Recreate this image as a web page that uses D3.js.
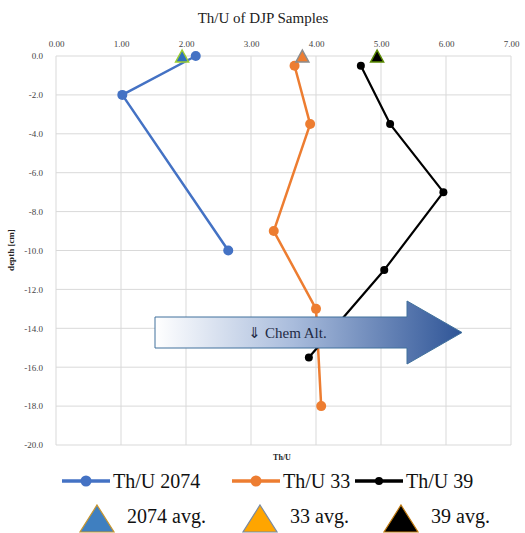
<!DOCTYPE html>
<html><head><meta charset="utf-8">
<script src="https://cdn.jsdelivr.net/npm/d3@7"></script>
<style>body{margin:0;background:#fff}svg{display:block}</style>
</head><body>
<svg id="c" width="525" height="533"></svg>
<script>
const title = "Th/U of DJP Samples";
const xTicks = [0,1,2,3,4,5,6,7];
const yTicks = [0,-2,-4,-6,-8,-10,-12,-14,-16,-18,-20];
const s2074 = [[2.15,0],[1.02,-2],[2.65,-10]];
const s33 = [[3.67,-0.5],[3.91,-3.5],[3.35,-9],[4.0,-13],[4.08,-18]];
const s39 = [[4.69,-0.5],[5.14,-3.5],[5.96,-7],[5.05,-11],[3.89,-15.5]];
const avgNames = ["2074 avg.","33 avg.","39 avg."];
const avgValues = [[1.94,0],[3.79,0],[4.94,0]];
const seriesNames = ["Th/U 2074","Th/U 33","Th/U 39"];

const svg = d3.select("#c");
const x = d3.scaleLinear().domain([0,7]).range([56,511]);
const y = d3.scaleLinear().domain([0,-20]).range([56,445]);
const serif = "Liberation Serif, Tinos, Times New Roman, DejaVu Serif, serif";

svg.append("text").attr("x",263).attr("y",23).attr("text-anchor","middle")
  .style("font-family",serif).attr("font-size",15).attr("fill","#222").text(title);

const g = svg.append("g");
g.selectAll("line.v").data(xTicks).join("line").attr("class","v")
  .attr("x1",d=>x(d)).attr("x2",d=>x(d)).attr("y1",y(0)).attr("y2",y(-20))
  .attr("stroke","#d9d9d9").attr("stroke-width",1);
g.selectAll("line.h").data(yTicks).join("line").attr("class","h")
  .attr("x1",x(0)).attr("x2",x(7)).attr("y1",d=>y(d)).attr("y2",d=>y(d))
  .attr("stroke","#d9d9d9").attr("stroke-width",1);

const xa = svg.append("g").attr("transform",`translate(0,${y(0)})`)
  .call(d3.axisTop(x).tickValues(xTicks).tickFormat(d=>d.toFixed(2)).tickSize(0).tickPadding(9));
xa.select(".domain").remove();
xa.selectAll("text").style("font-family",serif).attr("font-size",9).attr("fill","#444");
const ya = svg.append("g").attr("transform",`translate(${x(0)},0)`)
  .call(d3.axisLeft(y).tickValues(yTicks).tickFormat(d=>d.toFixed(1)).tickSize(0).tickPadding(13));
ya.select(".domain").remove();
ya.selectAll("text").style("font-family",serif).attr("font-size",9).attr("fill","#444");

svg.append("text").attr("transform","translate(14,250) rotate(-90)").attr("text-anchor","middle")
  .style("font-family",serif).attr("font-size",9).attr("font-weight","bold").attr("fill","#222").text("depth [cm]");
svg.append("text").attr("x",282).attr("y",460).attr("text-anchor","middle")
  .style("font-family",serif).attr("font-size",8).attr("font-weight","bold").attr("fill","#222").text("Th/U");

const line = d3.line().x(d=>x(d[0])).y(d=>y(d[1]));
const series = [
  {data:s2074,color:"#4472c4",w:2.5,r:5},
  {data:s33,color:"#ed7d31",w:2.5,r:5},
  {data:s39,color:"#000",w:2.2,r:4}
];
series.forEach(s=>{
  svg.append("path").datum(s.data).attr("d",line).attr("fill","none")
    .attr("stroke",s.color).attr("stroke-width",s.w).attr("stroke-linejoin","round");
  svg.selectAll(null).data(s.data).join("circle").attr("cx",d=>x(d[0])).attr("cy",d=>y(d[1]))
    .attr("r",s.r).attr("fill",s.color);
});

const tri = (cx,cy,w,h)=>`M${cx},${cy-h/2}L${cx+w/2},${cy+h/2}L${cx-w/2},${cy+h/2}Z`;
const avgStyles = [
  {fill:"#2e6fbd",stroke:"#9acd32"},
  {fill:"#ed7d31",stroke:"#8c8c8c"},
  {fill:"#000",stroke:"#5a8a00"}
];
avgValues.forEach((d,i)=>{
  svg.append("path").attr("d",tri(x(d[0]),y(d[1]),13,12))
    .attr("fill",avgStyles[i].fill).attr("stroke",avgStyles[i].stroke).attr("stroke-width",1.5);
});

const defs = svg.append("defs");
const gr = defs.append("linearGradient").attr("id","ag").attr("x1","0").attr("x2","1").attr("y1","0").attr("y2","0");
gr.append("stop").attr("offset","0").attr("stop-color","#ffffff");
gr.append("stop").attr("offset","0.45").attr("stop-color","#a9bcdc");
gr.append("stop").attr("offset","1").attr("stop-color","#2f5597");
const ax0=155, ax1=407, ax2=462, ayT=317, ayB=348, ahT=301, ahB=364, ayM=332.5;
svg.append("path").attr("d",`M${ax0},${ayT}L${ax1},${ayT}L${ax1},${ahT}L${ax2},${ayM}L${ax1},${ahB}L${ax1},${ayB}L${ax0},${ayB}Z`)
  .attr("fill","url(#ag)").attr("stroke","#41719c").attr("stroke-width",1);
svg.append("text").attr("x",248).attr("y",338).style("font-family","DejaVu Sans, sans-serif").attr("font-size",15)
  .attr("fill","#1f2a44").text("\u21D3");
svg.append("text").attr("x",265).attr("y",338).style("font-family",serif).attr("font-size",15)
  .attr("fill","#1f2a44").text("Chem Alt.");

const leg1 = [{x:62,c:"#4472c4",r:5.5},{x:232,c:"#ed7d31",r:5.5},{x:355,c:"#000",r:4}];
leg1.forEach((l,i)=>{
  svg.append("line").attr("x1",l.x).attr("x2",l.x+48).attr("y1",481).attr("y2",481)
    .attr("stroke",l.c).attr("stroke-width",3.5);
  svg.append("circle").attr("cx",l.x+24).attr("cy",481).attr("r",l.r).attr("fill",l.c);
  svg.append("text").attr("x",l.x+51).attr("y",488).style("font-family",serif).attr("font-size",20)
    .attr("fill","#111").text(seriesNames[i]);
});
const leg2 = [{x:97,fill:"#3f7fc0",stroke:"#c8962e"},{x:260,fill:"#ffa500",stroke:"#7a8aa0"},{x:401,fill:"#000",stroke:"#c07a10"}];
leg2.forEach((l,i)=>{
  svg.append("path").attr("d",tri(l.x,518.5,34,27)).attr("fill",l.fill).attr("stroke",l.stroke).attr("stroke-width",1.2);
  svg.append("text").attr("x",l.x+30).attr("y",523).style("font-family",serif).attr("font-size",20)
    .attr("fill","#111").text(avgNames[i]);
});
</script>
</body></html>
